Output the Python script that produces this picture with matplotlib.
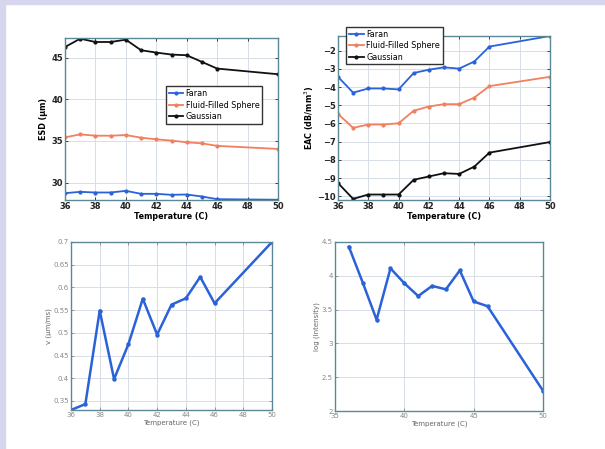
import matplotlib
matplotlib.use("Agg")
import matplotlib.pyplot as plt
from matplotlib.patches import Rectangle
from matplotlib.ticker import FormatStrFormatter

temps = [36, 37, 38, 39, 40, 41, 42, 43, 44, 45, 46, 50]

esd_faran = [28.72, 28.88, 28.80, 28.80, 29.00, 28.64, 28.64, 28.52, 28.56, 28.32, 28.00, 27.93]
esd_fluid = [35.42, 35.78, 35.62, 35.62, 35.70, 35.38, 35.19, 35.03, 34.83, 34.70, 34.40, 34.03]
esd_gauss = [46.27, 47.27, 46.87, 46.87, 47.15, 45.88, 45.60, 45.36, 45.28, 44.48, 43.68, 43.00]

eac_faran = [-3.44, -4.31, -4.08, -4.08, -4.13, -3.23, -3.05, -2.92, -2.99, -2.60, -1.78, -1.20]
eac_fluid = [-5.48, -6.24, -6.06, -6.06, -5.99, -5.30, -5.07, -4.94, -4.94, -4.58, -3.95, -3.44]
eac_gauss = [-9.27, -10.14, -9.90, -9.90, -9.90, -9.09, -8.91, -8.73, -8.77, -8.37, -7.60, -7.02]

velocity = [0.330, 0.343, 0.549, 0.398, 0.475, 0.575, 0.496, 0.562, 0.576, 0.623, 0.565, 0.700]
log_int = [4.43, 3.90, 3.35, 4.11, 3.89, 3.70, 3.85, 3.80, 4.08, 3.62, 3.55, 2.30]

series_names = ["Faran", "Fluid-Filled Sphere", "Gaussian"]
colors = ["#2a62d8", "#f08060", "#111111"]

W, H = 605, 449
fig = plt.figure(figsize=(W / 100, H / 100), dpi=100)
fig.patch.set_facecolor("white")
lav = "#d6d7ef"
fig.add_artist(Rectangle((0, 1 - 4 / H), 1, 4 / H, transform=fig.transFigure, color=lav, zorder=-1))
fig.add_artist(Rectangle((0, 0), 5 / W, 1, transform=fig.transFigure, color=lav, zorder=-1))


def make_ax(l, r, t, b):
    return fig.add_axes([l / W, 1 - b / H, (r - l) / W, (b - t) / H])


spine_c = "#5b8797"


def style(ax, top=True):
    for s in ax.spines.values():
        s.set_color(spine_c)
        s.set_linewidth(1.0)
    ax.grid(True, color="#d8dee6", linewidth=0.7)
    ax.tick_params(length=2, width=0.6, pad=1.5, direction="in", top=True, right=True)
    if top:
        ax.tick_params(labelsize=6, colors="#222222")
        for lab in ax.get_xticklabels() + ax.get_yticklabels():
            lab.set_fontweight("bold")
    else:
        ax.tick_params(labelsize=5, colors="#888888")


leg_kw = dict(fontsize=5.8, frameon=True, fancybox=False, edgecolor="#333333",
              handlelength=1.8, borderpad=0.35, labelspacing=0.3, handletextpad=0.3,
              framealpha=1)

# Top-left: ESD
ax1 = make_ax(65, 278, 38, 200)
for vals, name, c in zip([esd_faran, esd_fluid, esd_gauss], series_names, colors):
    ax1.plot(temps, vals, "-", marker="o", ms=2, color=c, lw=1.3, label=name)
ax1.set_xlim(36, 50)
ax1.set_ylim(27.9, 47.35)
ax1.set_xticks(range(36, 51, 2))
ax1.set_yticks([30, 35, 40, 45])
ax1.set_xlabel("Temperature (C)", fontsize=5.8, labelpad=1, fontweight="bold")
ax1.set_ylabel("ESD (μm)", fontsize=5.8, labelpad=2, fontweight="bold")
style(ax1)
ax1.legend(loc="center", bbox_to_anchor=(0.70, 0.585), **leg_kw)

# Top-right: EAC
ax2 = make_ax(338, 550, 36, 200)
for vals, name, c in zip([eac_faran, eac_fluid, eac_gauss], series_names, colors):
    ax2.plot(temps, vals, "-", marker="o", ms=2, color=c, lw=1.3, label=name)
ax2.set_xlim(36, 50)
ax2.set_ylim(-10.2, -1.2)
ax2.set_xticks(range(36, 51, 2))
ax2.set_yticks(list(range(-10, -1)))
ax2.set_xlabel("Temperature (C)", fontsize=5.8, labelpad=1, fontweight="bold")
ax2.set_ylabel("EAC (dB/mm$^3$)", fontsize=5.8, labelpad=1, fontweight="bold")
style(ax2)
ax2.legend(loc="upper left", bbox_to_anchor=(0.02, 1.08), **leg_kw)

# Bottom-left: velocity
ax3 = make_ax(71, 272, 242, 410)
ax3.plot(temps, velocity, "-", marker="o", ms=2.2, color="#2a62d8", lw=1.8)
ax3.set_xlim(36, 50)
ax3.set_ylim(0.33, 0.70)
ax3.set_xticks(range(36, 51, 2))
ax3.set_yticks([0.35, 0.4, 0.45, 0.5, 0.55, 0.6, 0.65, 0.7])
ax3.yaxis.set_major_formatter(FormatStrFormatter("%g"))
ax3.set_xlabel("Temperature (C)", fontsize=5, labelpad=1, color="#666666")
ax3.set_ylabel("v (μm/ms)", fontsize=5, labelpad=1, color="#666666")
style(ax3, top=False)

# Bottom-right: log intensity
ax4 = make_ax(335, 543, 242, 411)
ax4.plot(temps, log_int, "-", marker="o", ms=2.2, color="#2a62d8", lw=1.8)
ax4.set_xlim(35, 50)
ax4.set_ylim(2, 4.5)
ax4.set_xticks([35, 40, 45, 50])
ax4.set_yticks([2, 2.5, 3, 3.5, 4, 4.5])
ax4.yaxis.set_major_formatter(FormatStrFormatter("%g"))
ax4.set_xlabel("Temperature (C)", fontsize=5, labelpad=1, color="#666666")
ax4.set_ylabel("log (Intensity)", fontsize=5, labelpad=1, color="#666666")
style(ax4, top=False)

fig.savefig("out.png", dpi=100, facecolor=fig.get_facecolor())
